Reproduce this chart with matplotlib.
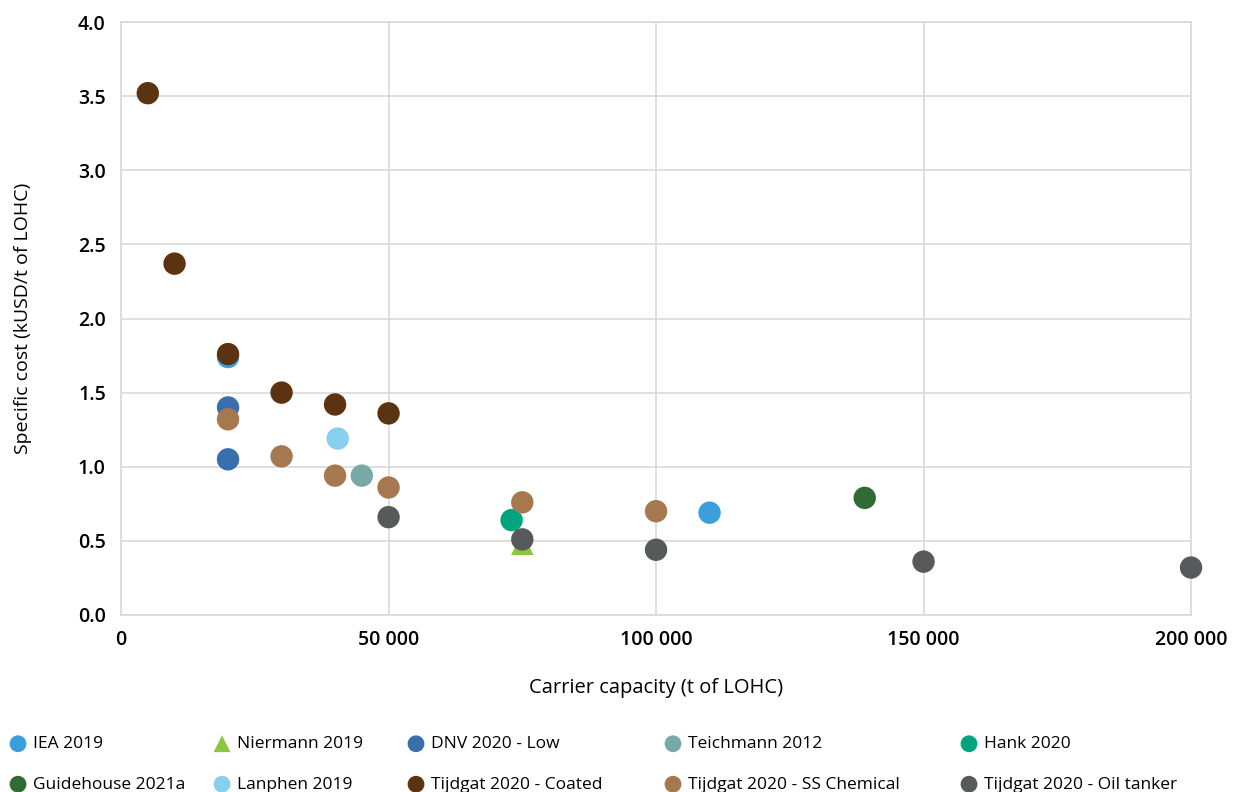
import numpy as np
import matplotlib
matplotlib.use('Agg')
import matplotlib.pyplot as plt
from matplotlib.ticker import FuncFormatter

plt.rcParams['font.family'] = ['Open Sans', 'DejaVu Sans']

# data: carrier capacity (t of LOHC) vs specific cost (kUSD/t of LOHC)
names = ['IEA 2019', 'Niermann 2019', 'DNV 2020 - Low', 'Teichmann 2012',
         'Hank 2020', 'Guidehouse 2021a', 'Lanphen 2019',
         'Tijdgat 2020 - Coated', 'Tijdgat 2020 - SS Chemical',
         'Tijdgat 2020 - Oil tanker']

iea_x = [20000, 110000]
iea_y = [1.74, 0.69]
nier_x = [75000]
nier_y = [0.48]
dnv_x = [20000, 20000]
dnv_y = [1.40, 1.05]
teich_x = [45000]
teich_y = [0.94]
hank_x = [73000]
hank_y = [0.64]
guide_x = [139000]
guide_y = [0.79]
lanph_x = [40500]
lanph_y = [1.19]
coat_x = [5000, 10000, 20000, 30000, 40000, 50000]
coat_y = [3.52, 2.37, 1.76, 1.50, 1.42, 1.36]
ssch_x = [20000, 30000, 40000, 50000, 75000, 100000]
ssch_y = [1.32, 1.07, 0.94, 0.86, 0.76, 0.70]
oil_x = [50000, 75000, 100000, 150000, 200000]
oil_y = [0.66, 0.51, 0.44, 0.36, 0.32]

xs = [iea_x, nier_x, dnv_x, teich_x, hank_x, guide_x, lanph_x, coat_x, ssch_x, oil_x]
ys = [iea_y, nier_y, dnv_y, teich_y, hank_y, guide_y, lanph_y, coat_y, ssch_y, oil_y]

colors = ['#3b9fdb', '#8cc63f', '#3a6fae', '#78a9a9', '#00a57f',
          '#2f6b33', '#87ceef', '#5c3310', '#a67850', '#58595b']
markers = ['o', '^', 'o', 'o', 'o', 'o', 'o', 'o', 'o', 'o']

W, H = 1239, 792
fig = plt.figure(figsize=(W / 100, H / 100), dpi=100)
ax = fig.add_axes([0.0977, 0.2235, 0.8636, 0.7487])

handles = []
for x, y, c, m, n in zip(xs, ys, colors, markers, names):
    h = ax.scatter(x, y, s=260, marker=m, color=c, edgecolors='none',
                   label=n, zorder=3, clip_on=False)
    handles.append(h)

ax.set_xlim(0, 200000)
ax.set_ylim(0, 4.0)
ax.set_xticks(np.arange(0, 200001, 50000))
ax.set_yticks(np.arange(0, 4.01, 0.5))
ax.xaxis.set_major_formatter(FuncFormatter(
    lambda v, p: '{:,.0f}'.format(v).replace(',', ' ')))
ax.yaxis.set_major_formatter(FuncFormatter(lambda v, p: '%.1f' % v))
ax.grid(True, color='#d9d9d9', lw=1.2, zorder=0)
for s in ax.spines.values():
    s.set_color('#d9d9d9')
    s.set_linewidth(1.2)
ax.tick_params(length=0, labelsize=14, pad=11)
for lab in ax.get_xticklabels() + ax.get_yticklabels():
    lab.set_fontweight('semibold')

ax.set_xlabel('Carrier capacity (t of LOHC)', fontsize=14.5, labelpad=20)
ax.set_ylabel('Specific cost (kUSD/t of LOHC)', fontsize=14, labelpad=33)

# legend: five columns of two, each placed on its own
col_px = [18, 222, 416, 673, 969]  # marker centres in the reference
for k, cx in enumerate(col_px):
    fig.legend([handles[k], handles[k + 5]], [names[k], names[k + 5]],
               loc='upper left', bbox_to_anchor=((cx - 10.4) / W, 0.0705),
               ncol=1, frameon=False, fontsize=12.5, markerscale=0.75,
               handletextpad=0.25, labelspacing=1.4, handlelength=1.2,
               borderpad=0, borderaxespad=0)

fig.savefig('out.png', dpi=100)
